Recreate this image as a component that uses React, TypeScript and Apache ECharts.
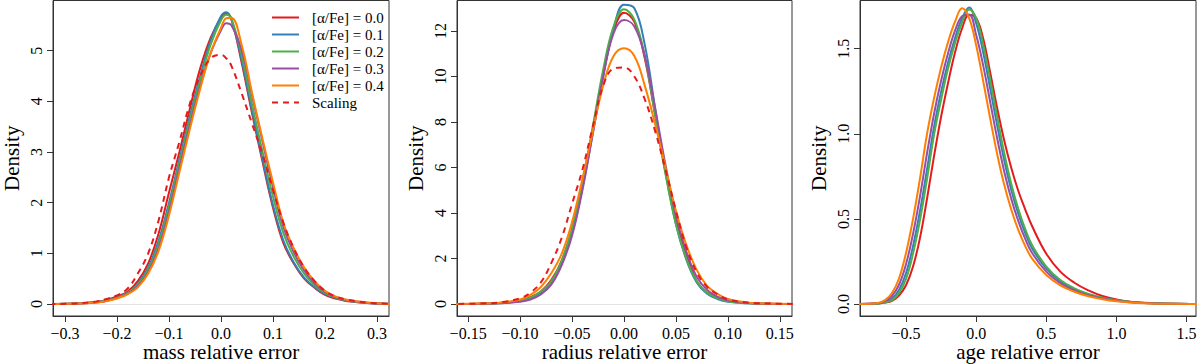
import React, { useEffect, useRef } from "react";
import * as echarts from "echarts";

const FONT = "'Liberation Serif', 'Times New Roman', 'DejaVu Serif', serif";

const SERIES_NAMES = ["[α/Fe] = 0.0", "[α/Fe] = 0.1", "[α/Fe] = 0.2", "[α/Fe] = 0.3", "[α/Fe] = 0.4", "Scaling"];
const SERIES_COLORS = ["#E41A1C", "#377EB8", "#4DAF4A", "#984EA3", "#FF7F00", "#E41A1C"];

// Panel 1: mass relative error
const massX = [-0.33, -0.28, -0.24, -0.22, -0.2, -0.18, -0.16, -0.14, -0.12, -0.1, -0.08, -0.06, -0.04, -0.02, 0, 0.01, 0.02, 0.04, 0.06, 0.08, 0.1, 0.12, 0.14, 0.16, 0.18, 0.2, 0.22, 0.24, 0.28, 0.33];
const massA00 = [0, 0.01, 0.04, 0.08, 0.15, 0.24, 0.45, 0.8, 1.39, 2.2, 3.0, 3.85, 4.65, 5.25, 5.65, 5.74, 5.62, 4.75, 3.75, 2.8, 1.9, 1.2, 0.8, 0.5, 0.32, 0.18, 0.11, 0.06, 0.02, 0];
const massA01 = [0, 0.01, 0.04, 0.07, 0.13, 0.22, 0.4, 0.72, 1.25, 2.0, 2.85, 3.7, 4.5, 5.2, 5.68, 5.76, 5.62, 4.8, 3.8, 2.85, 1.95, 1.25, 0.82, 0.52, 0.33, 0.2, 0.12, 0.07, 0.02, 0];
const massA02 = [0, 0.01, 0.035, 0.065, 0.12, 0.21, 0.38, 0.68, 1.18, 1.92, 2.78, 3.62, 4.42, 5.12, 5.6, 5.71, 5.63, 4.9, 3.92, 3.0, 2.12, 1.4, 0.93, 0.6, 0.37, 0.22, 0.13, 0.075, 0.025, 0];
const massA03 = [0, 0.008, 0.03, 0.06, 0.115, 0.2, 0.35, 0.63, 1.1, 1.82, 2.68, 3.52, 4.3, 4.95, 5.4, 5.54, 5.5, 5.0, 4.1, 3.2, 2.3, 1.52, 1.02, 0.66, 0.41, 0.24, 0.14, 0.08, 0.025, 0];
const massA04 = [0, 0.008, 0.03, 0.06, 0.11, 0.19, 0.33, 0.6, 1.05, 1.75, 2.6, 3.45, 4.25, 4.95, 5.45, 5.64, 5.65, 5.1, 4.15, 3.25, 2.4, 1.6, 1.1, 0.72, 0.45, 0.26, 0.15, 0.09, 0.03, 0];
const massScaling = [0, 0.01, 0.05, 0.1, 0.17, 0.3, 0.6, 1.0, 1.65, 2.5, 3.2, 3.95, 4.5, 4.85, 4.92, 4.85, 4.7, 4.15, 3.55, 2.95, 2.25, 1.6, 1.1, 0.72, 0.45, 0.26, 0.15, 0.09, 0.03, 0];
const massXTicks = [-0.3, -0.2, -0.1, 0, 0.1, 0.2, 0.3];
const massYTicks = [0, 1, 2, 3, 4, 5];

// Panel 2: radius relative error
const radiusX = [-0.17, -0.14, -0.12, -0.1, -0.09, -0.08, -0.07, -0.06, -0.05, -0.04, -0.03, -0.02, -0.01, 0, 0.01, 0.02, 0.03, 0.04, 0.05, 0.06, 0.07, 0.08, 0.09, 0.1, 0.12, 0.14, 0.17];
const radiusA00 = [0, 0.01, 0.04, 0.15, 0.3, 0.55, 1.05, 1.9, 3.3, 5.3, 7.7, 10.1, 12.0, 12.8, 12.4, 10.8, 8.3, 5.8, 3.7, 2.2, 1.0, 0.5, 0.28, 0.15, 0.04, 0.01, 0];
const radiusA01 = [0, 0.01, 0.03, 0.12, 0.25, 0.5, 0.95, 1.8, 3.1, 5.1, 7.5, 10.0, 12.1, 13.15, 13.0, 11.4, 8.6, 5.8, 3.5, 1.95, 0.95, 0.45, 0.22, 0.1, 0.03, 0.01, 0];
const radiusA02 = [0, 0.01, 0.04, 0.14, 0.28, 0.55, 1.0, 1.9, 3.3, 5.3, 7.8, 10.3, 12.2, 12.95, 12.5, 10.9, 8.3, 5.7, 3.5, 2.0, 1.0, 0.5, 0.26, 0.12, 0.03, 0.01, 0];
const radiusA03 = [0, 0.01, 0.03, 0.1, 0.2, 0.42, 0.85, 1.7, 3.0, 5.0, 7.5, 10.0, 11.9, 12.48, 12.2, 10.9, 8.6, 6.1, 3.9, 2.3, 1.2, 0.62, 0.32, 0.16, 0.04, 0.01, 0];
const radiusA04 = [0, 0.02, 0.06, 0.2, 0.4, 0.75, 1.35, 2.2, 3.6, 5.5, 7.6, 9.6, 10.9, 11.24, 10.9, 9.6, 7.9, 6.0, 4.1, 2.6, 1.5, 0.8, 0.45, 0.22, 0.06, 0.02, 0];
const radiusScaling = [0, 0.02, 0.07, 0.25, 0.5, 0.95, 1.8, 2.9, 4.4, 5.9, 7.8, 9.6, 10.35, 10.4, 10.0, 9.0, 7.6, 5.9, 4.1, 2.5, 1.4, 0.75, 0.42, 0.2, 0.06, 0.02, 0];
const radiusXTicks = [-0.15, -0.1, -0.05, 0, 0.05, 0.1, 0.15];
const radiusYTicks = [0, 2, 4, 6, 8, 10, 12];

// Panel 3: age relative error
const ageX = [-0.85, -0.7, -0.65, -0.6, -0.55, -0.5, -0.45, -0.4, -0.35, -0.3, -0.25, -0.2, -0.15, -0.1, -0.05, 0, 0.05, 0.1, 0.15, 0.2, 0.25, 0.3, 0.35, 0.4, 0.5, 0.6, 0.7, 0.8, 0.9, 1.0, 1.1, 1.2, 1.4, 1.6];
const ageA00 = [0, 0.003, 0.008, 0.018, 0.05, 0.11, 0.22, 0.39, 0.62, 0.87, 1.1, 1.3, 1.48, 1.62, 1.7, 1.68, 1.56, 1.36, 1.15, 0.96, 0.8, 0.665, 0.555, 0.455, 0.295, 0.19, 0.125, 0.08, 0.047, 0.026, 0.013, 0.006, 0.001, 0];
const ageA01 = [0, 0.003, 0.012, 0.031, 0.082, 0.18, 0.34, 0.548, 0.792, 1.042, 1.246, 1.42, 1.564, 1.68, 1.742, 1.65, 1.478, 1.266, 1.048, 0.844, 0.671, 0.531, 0.416, 0.325, 0.208, 0.134, 0.087, 0.056, 0.035, 0.021, 0.012, 0.007, 0.001, 0];
const ageA02 = [0, 0.002, 0.009, 0.022, 0.064, 0.147, 0.296, 0.495, 0.735, 0.995, 1.2, 1.385, 1.535, 1.655, 1.73, 1.68, 1.525, 1.318, 1.099, 0.888, 0.707, 0.56, 0.44, 0.344, 0.22, 0.141, 0.092, 0.059, 0.037, 0.022, 0.012, 0.006, 0.001, 0];
const ageA03 = [0, 0.004, 0.016, 0.047, 0.113, 0.234, 0.412, 0.634, 0.886, 1.118, 1.311, 1.474, 1.607, 1.69, 1.7, 1.58, 1.402, 1.187, 0.972, 0.779, 0.619, 0.488, 0.382, 0.298, 0.19, 0.123, 0.08, 0.051, 0.032, 0.019, 0.01, 0.006, 0.001, 0];
const ageA04 = [0, 0.006, 0.023, 0.065, 0.15, 0.3, 0.5, 0.74, 1.0, 1.21, 1.39, 1.54, 1.66, 1.737, 1.68, 1.52, 1.31, 1.09, 0.88, 0.7, 0.555, 0.435, 0.34, 0.265, 0.17, 0.11, 0.072, 0.045, 0.028, 0.016, 0.009, 0.005, 0.001, 0];
const ageXTicks = [-0.5, 0, 0.5, 1.0, 1.5];
const ageYTicks = [0, 0.5, 1.0, 1.5];

const fmt = (d: number) => (v: number) => {
  const s = Math.abs(v).toFixed(d);
  return v < -1e-9 ? "\u2212" + s : s;
};

const panels = [
  {
    xs: massX, ys: [massA00, massA01, massA02, massA03, massA04, massScaling],
    xTicks: massXTicks, yTicks: massYTicks, xDec: 1, yDec: 0,
    xMin: -0.3231, xMax: 0.3231, yMin: -0.2368, yMax: 5.99,
    left: 53, width: 336, xName: "mass relative error",
  },
  {
    xs: radiusX, ys: [radiusA00, radiusA01, radiusA02, radiusA03, radiusA04, radiusScaling],
    xTicks: radiusXTicks, yTicks: radiusYTicks, xDec: 2, yDec: 0,
    xMin: -0.1607, xMax: 0.1617, yMin: -0.527, yMax: 13.34,
    left: 457, width: 335, xName: "radius relative error",
  },
  {
    xs: ageX, ys: [ageA00, ageA01, ageA02, ageA03, ageA04],
    xTicks: ageXTicks, yTicks: ageYTicks, xDec: 1, yDec: 1,
    xMin: -0.828, xMax: 1.567, yMin: -0.0705, yMax: 1.783,
    left: 860, width: 336, xName: "age relative error",
  },
];

export default function App() {
  const ref = useRef<HTMLDivElement>(null);
  useEffect(() => {
    if (!ref.current) return;
    const chart = echarts.init(ref.current, undefined, { renderer: "svg" });
    const AXIS = "#333";
    const grid: any[] = [];
    const xAxis: any[] = [];
    const yAxis: any[] = [];
    const series: any[] = [];
    panels.forEach((p, i) => {
      grid.push({
        left: p.left, top: 0.5, width: p.width, height: 315.5,
        containLabel: false, outerBoundsMode: "none",
        show: true, borderColor: AXIS, borderWidth: 1, backgroundColor: "transparent",
      });
      xAxis.push({
        type: "value", gridIndex: i, min: p.xMin, max: p.xMax,
        splitLine: { show: false },
        axisLine: { show: true, onZero: false, lineStyle: { color: AXIS, width: 1 } },
        axisTick: { show: true, customValues: p.xTicks, length: 6, lineStyle: { color: AXIS } },
        axisLabel: { customValues: p.xTicks, formatter: fmt(p.xDec), margin: 9, fontFamily: FONT, fontSize: 16, color: "#000" },
        name: p.xName, nameLocation: "middle", nameGap: 25, nameMoveOverlap: false,
        nameTextStyle: { fontFamily: FONT, fontSize: 21, color: "#000" },
      });
      yAxis.push({
        type: "value", gridIndex: i, min: p.yMin, max: p.yMax,
        splitLine: { show: false },
        axisLine: { show: true, onZero: false, lineStyle: { color: AXIS, width: 1 } },
        axisTick: { show: true, customValues: p.yTicks, length: 6, lineStyle: { color: AXIS } },
        axisLabel: { customValues: p.yTicks, formatter: fmt(p.yDec), rotate: 90, margin: 9, fontFamily: FONT, fontSize: 16, color: "#000" },
        name: "Density", nameLocation: "middle", nameGap: 31,
        nameTextStyle: { fontFamily: FONT, fontSize: 21, color: "#000" },
      });
      p.ys.forEach((ys, k) => {
        series.push({
          type: "line", name: SERIES_NAMES[k], xAxisIndex: i, yAxisIndex: i,
          data: p.xs.map((x, j) => [x, ys[j]]),
          symbol: "none", smooth: 0.4, clip: true, silent: true,
          lineStyle: { color: SERIES_COLORS[k], width: 2, type: k === 5 ? [6, 5] : "solid" },
          itemStyle: { color: SERIES_COLORS[k] },
          z: 3,
          markLine: k === 0 ? {
            silent: true, symbol: ["none", "none"], label: { show: false },
            lineStyle: { color: "#e3e3e3", width: 1, type: "solid" },
            data: [{ yAxis: 0 }], z: 1,
          } : undefined,
        });
      });
    });
    chart.setOption({
      animation: false,
      backgroundColor: "#fff",
      grid, xAxis, yAxis, series,
      legend: {
        data: SERIES_NAMES, orient: "vertical", left: 266, top: 5,
        itemWidth: 27, itemHeight: 14, itemGap: 2,
        itemStyle: { opacity: 0, borderWidth: 0 },
        textStyle: { fontFamily: FONT, fontSize: 15, color: "#000", padding: [0, 0, 0, 8] },
        selectedMode: false,
      },
    });
    return () => chart.dispose();
  }, []);
  return <div ref={ref} style={{ position: "fixed", left: 0, top: 0, width: 1200, height: 364 }} />;
}
